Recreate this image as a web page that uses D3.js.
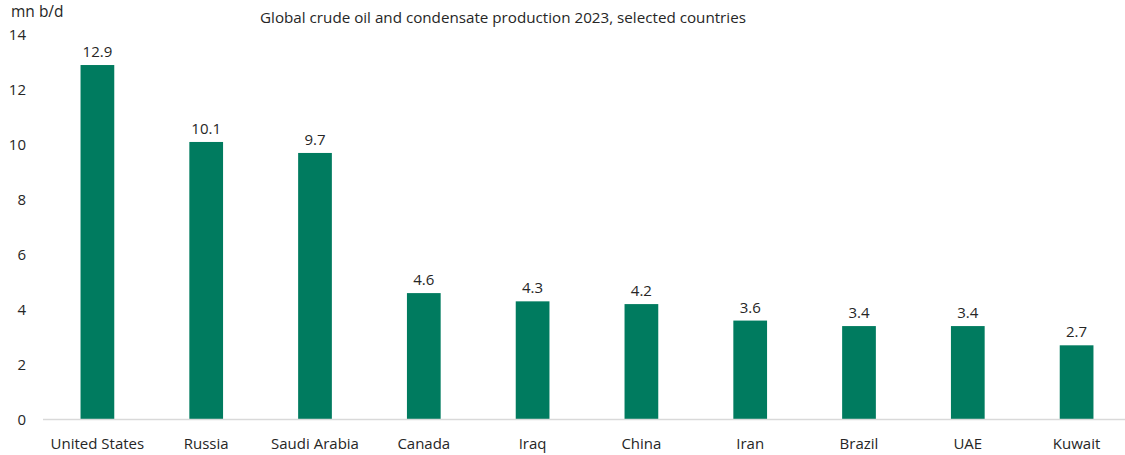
<!DOCTYPE html>
<html>
<head>
<meta charset="utf-8">
<script src="https://cdn.jsdelivr.net/npm/d3@7"></script>
<style>
  body { margin: 0; background: #fff; }
  text { font-family: "Open Sans", "Noto Sans", sans-serif; fill: #262626; }
</style>
</head>
<body>
<svg id="chart" width="1125" height="455"></svg>
<script>
const countries = ["United States", "Russia", "Saudi Arabia", "Canada", "Iraq", "China", "Iran", "Brazil", "UAE", "Kuwait"];
const production = [12.9, 10.1, 9.7, 4.6, 4.3, 4.2, 3.6, 3.4, 3.4, 2.7];
const yTicks = [0, 2, 4, 6, 8, 10, 12, 14];

const data = countries.map((c, i) => ({ country: c, value: production[i] }));

const svg = d3.select('#chart');
const width = +svg.attr('width');

const x = d3.scaleBand()
    .domain(countries)
    .range([43, 1131])
    .paddingInner(0.69)
    .paddingOuter(0.345);

const y = d3.scaleLinear()
    .domain([0, 14])
    .range([419.5, 34.8]);

// title
svg.append('text')
    .attr('x', 503)
    .attr('y', 23)
    .attr('text-anchor', 'middle')
    .style('font-size', '15.2px')
    .text('Global crude oil and condensate production 2023, selected countries');

// unit label
svg.append('text')
    .attr('x', 11)
    .attr('y', 17)
    .style('font-size', '15.5px')
    .text('mn b/d');

// y axis labels
svg.append('g')
    .selectAll('text')
    .data(yTicks)
    .enter()
    .append('text')
    .attr('x', 26)
    .attr('y', d => y(d))
    .attr('dy', '0.35em')
    .attr('text-anchor', 'end')
    .style('font-size', '15px')
    .text(d => d);

// bars
svg.append('g')
    .selectAll('rect')
    .data(data)
    .enter()
    .append('rect')
    .attr('x', d => x(d.country))
    .attr('y', d => y(d.value))
    .attr('width', x.bandwidth())
    .attr('height', d => y(0) - y(d.value))
    .attr('fill', '#007b5f');

// value labels
svg.append('g')
    .selectAll('text')
    .data(data)
    .enter()
    .append('text')
    .attr('x', d => x(d.country) + x.bandwidth() / 2)
    .attr('y', d => y(d.value) - 8)
    .attr('text-anchor', 'middle')
    .style('font-size', '15px')
    .text(d => d.value.toFixed(1));

// baseline
svg.append('line')
    .attr('x1', 43)
    .attr('x2', width)
    .attr('y1', y(0))
    .attr('y2', y(0))
    .attr('stroke', '#d9d9d9')
    .attr('stroke-width', 1.5);

// category labels
svg.append('g')
    .selectAll('text')
    .data(countries)
    .enter()
    .append('text')
    .attr('x', d => x(d) + x.bandwidth() / 2)
    .attr('y', 449)
    .attr('text-anchor', 'middle')
    .style('font-size', '15px')
    .text(d => d);
</script>
</body>
</html>
